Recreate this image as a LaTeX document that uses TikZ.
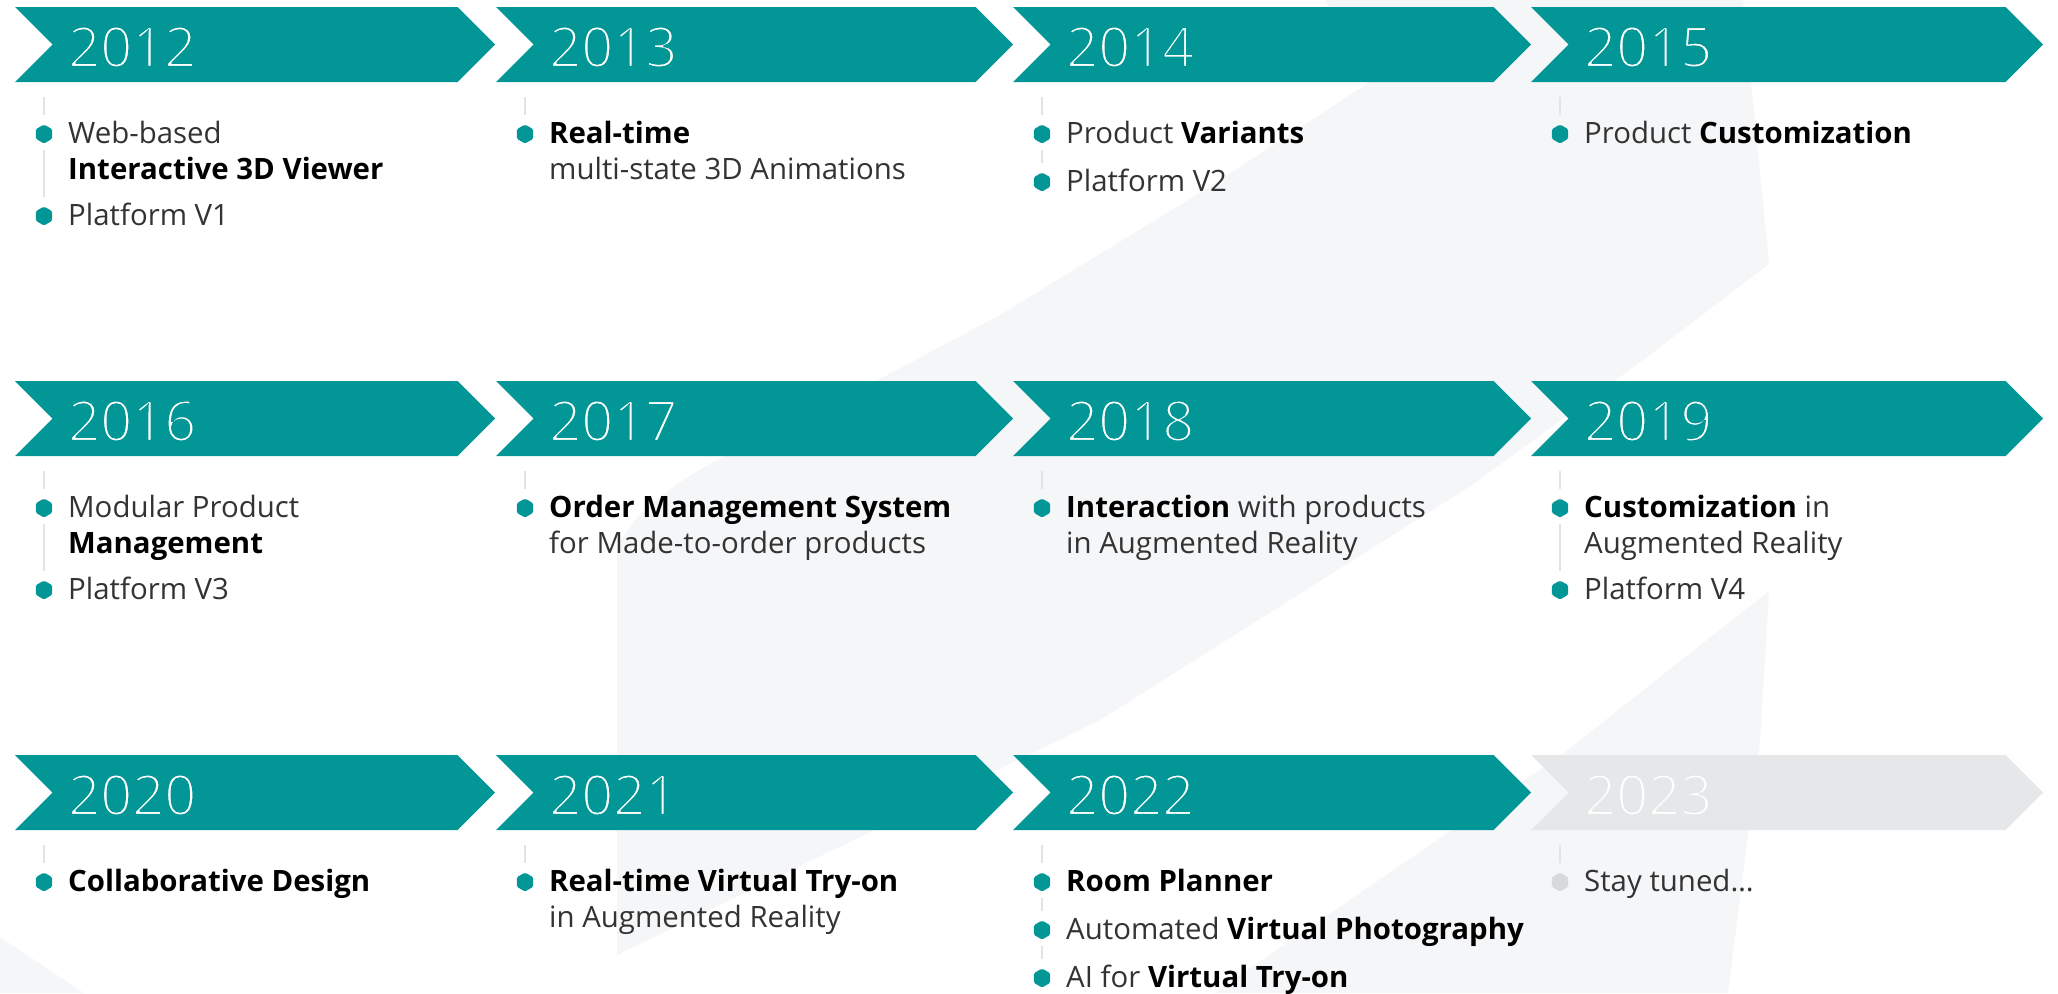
\documentclass[tikz,border=0pt]{standalone}
\usepackage{fontspec}
\setmainfont{Open Sans}
\newfontfamily\yearfont{Open Sans}
\usetikzlibrary{shapes.geometric}
\definecolor{tealA}{HTML}{039697}
\definecolor{bgshape}{HTML}{F5F6F8}
\definecolor{arrgray}{HTML}{E6E7E9}
\definecolor{linegray}{HTML}{E3E3E3}
\definecolor{txtgray}{HTML}{333333}
\definecolor{dotgray}{HTML}{D8D9DB}
% thin the year digits by stroking their outline in the chevron colour
\newcommand\thinyear[2]{\special{pdf:code q 2 Tr 2.2 w #1 RG}#2\special{pdf:code Q}}
\newcommand\tealrgb{0.012 0.588 0.592}
\newcommand\grayrgb{0.902 0.906 0.914}
\newcommand\chevronw[4]{% start x, tip x, top y, colour
  \fill[#4] (#1,#3) -- ({#2-37.5},#3) -- (#2,{#3+37.5}) -- ({#2-37.5},{#3+75}) -- (#1,{#3+75}) -- ({#1+37.5},{#3+37.5}) -- cycle;}
\begin{document}
\begin{tikzpicture}[x=1pt,y=-1pt,
  yearlbl/.style={text=white,font=\yearfont\fontsize{56}{60}\selectfont,inner sep=0pt,anchor=base west},
  itemtxt/.style={text=txtgray,font=\fontsize{29.4}{36}\selectfont,inner sep=0pt,anchor=base west},
  dot/.style={regular polygon,regular polygon sides=6,shape border rotate=30,fill=tealA,minimum size=19pt,inner sep=0pt,rounded corners=1.5pt},
  dotg/.style={dot,fill=dotgray},
  conn/.style={draw=linegray,line width=2pt},
  topconn/.style={conn,shorten >=19pt},
  midconn/.style={conn,shorten <=16pt,shorten >=19pt}]
\useasboundingbox (0,0) rectangle (2058,993);
\fill[white] (0,0) rectangle (2058,993);
% background shapes
\fill[bgshape] (1325,0) -- (1743,0) -- (1769,264) -- (1643,360) -- (1472,485) -- (1100,720) -- (617,955) -- (617,548)
  .. controls (640,500) and (700,465) .. (780,430) -- (878,380) -- (1000,315) -- (1203,191) -- (1370,82) -- cycle;
\fill[bgshape] (1769,591) -- (1760,740) -- (1728,993) -- (1214,993) -- (1560,756) -- cycle;
\fill[bgshape] (0,937) -- (84,993) -- (0,993) -- cycle;
% chevrons
\chevronw{15}{495}{7}{tealA}
\chevronw{496}{1013}{7}{tealA}
\chevronw{1013}{1531}{7}{tealA}
\chevronw{1531}{2043}{7}{tealA}
\chevronw{15}{495}{381}{tealA}
\chevronw{496}{1013}{381}{tealA}
\chevronw{1013}{1531}{381}{tealA}
\chevronw{1531}{2043}{381}{tealA}
\chevronw{15}{495}{755}{tealA}
\chevronw{496}{1013}{755}{tealA}
\chevronw{1013}{1531}{755}{tealA}
\chevronw{1531}{2043}{755}{arrgray}
% years
\node[yearlbl] (y2012) at (68,67) {\thinyear{\tealrgb}{2012}};
\node[yearlbl] (y2013) at (549,67) {\thinyear{\tealrgb}{2013}};
\node[yearlbl] (y2014) at (1066,67) {\thinyear{\tealrgb}{2014}};
\node[yearlbl] (y2015) at (1584,67) {\thinyear{\tealrgb}{2015}};
\node[yearlbl] (y2016) at (68,441) {\thinyear{\tealrgb}{2016}};
\node[yearlbl] (y2017) at (549,441) {\thinyear{\tealrgb}{2017}};
\node[yearlbl] (y2018) at (1066,441) {\thinyear{\tealrgb}{2018}};
\node[yearlbl] (y2019) at (1584,441) {\thinyear{\tealrgb}{2019}};
\node[yearlbl] (y2020) at (68,815) {\thinyear{\tealrgb}{2020}};
\node[yearlbl] (y2021) at (549,815) {\thinyear{\tealrgb}{2021}};
\node[yearlbl] (y2022) at (1066,815) {\thinyear{\tealrgb}{2022}};
\node[yearlbl] (y2023) at (1584,815) {\thinyear{\grayrgb}{2023}};
% connector tops
\coordinate (t2012) at (44,97);   \coordinate (t2013) at (525,97);
\coordinate (t2014) at (1042,97); \coordinate (t2015) at (1560,97);
\coordinate (t2016) at (44,471);  \coordinate (t2017) at (525,471);
\coordinate (t2018) at (1042,471);\coordinate (t2019) at (1560,471);
\coordinate (t2020) at (44,845);  \coordinate (t2021) at (525,845);
\coordinate (t2022) at (1042,845);\coordinate (t2023) at (1560,845);
% ---- row 1
\node[dot] (b2012a) at (44,134) {};
\node[dot] (b2012b) at (44,216) {};
\node[itemtxt] (l2012a) at (68,143) {Web-based};
\node[itemtxt] (l2012b) at (68,179) {\textbf{\color{black}Interactive 3D Viewer}};
\node[itemtxt] (l2012c) at (68,225) {Platform V1};
\draw[topconn] (t2012) -- (b2012a.center);
\draw[midconn] (b2012a.center) -- (b2012b.center);

\node[dot] (b2013a) at (525,134) {};
\node[itemtxt] (l2013a) at (549,143) {\textbf{\color{black}Real-time}};
\node[itemtxt] (l2013b) at (549,179) {multi-state 3D Animations};
\draw[topconn] (t2013) -- (b2013a.center);

\node[dot] (b2014a) at (1042,134) {};
\node[dot] (b2014b) at (1042,182) {};
\node[itemtxt] (l2014a) at (1066,143) {Product \textbf{\color{black}Variants}};
\node[itemtxt] (l2014b) at (1066,191) {Platform V2};
\draw[topconn] (t2014) -- (b2014a.center);
\draw[midconn] (b2014a.center) -- (b2014b.center);

\node[dot] (b2015a) at (1560,134) {};
\node[itemtxt] (l2015a) at (1584,143) {Product \textbf{\color{black}Customization}};
\draw[topconn] (t2015) -- (b2015a.center);
% ---- row 2
\node[dot] (b2016a) at (44,508) {};
\node[dot] (b2016b) at (44,590) {};
\node[itemtxt] (l2016a) at (68,517) {Modular Product};
\node[itemtxt] (l2016b) at (68,553) {\textbf{\color{black}Management}};
\node[itemtxt] (l2016c) at (68,599) {Platform V3};
\draw[topconn] (t2016) -- (b2016a.center);
\draw[midconn] (b2016a.center) -- (b2016b.center);

\node[dot] (b2017a) at (525,508) {};
\node[itemtxt] (l2017a) at (549,517) {\textbf{\color{black}Order Management System}};
\node[itemtxt] (l2017b) at (549,553) {for Made-to-order products};
\draw[topconn] (t2017) -- (b2017a.center);

\node[dot] (b2018a) at (1042,508) {};
\node[itemtxt] (l2018a) at (1066,517) {\textbf{\color{black}Interaction} with products};
\node[itemtxt] (l2018b) at (1066,553) {in Augmented Reality};
\draw[topconn] (t2018) -- (b2018a.center);

\node[dot] (b2019a) at (1560,508) {};
\node[dot] (b2019b) at (1560,590) {};
\node[itemtxt] (l2019a) at (1584,517) {\textbf{\color{black}Customization} in};
\node[itemtxt] (l2019b) at (1584,553) {Augmented Reality};
\node[itemtxt] (l2019c) at (1584,599) {Platform V4};
\draw[topconn] (t2019) -- (b2019a.center);
\draw[midconn] (b2019a.center) -- (b2019b.center);
% ---- row 3
\node[dot] (b2020a) at (44,882) {};
\node[itemtxt] (l2020a) at (68,891) {\textbf{\color{black}Collaborative Design}};
\draw[topconn] (t2020) -- (b2020a.center);

\node[dot] (b2021a) at (525,882) {};
\node[itemtxt] (l2021a) at (549,891) {\textbf{\color{black}Real-time Virtual Try-on}};
\node[itemtxt] (l2021b) at (549,927) {in Augmented Reality};
\draw[topconn] (t2021) -- (b2021a.center);

\node[dot] (b2022a) at (1042,882) {};
\node[dot] (b2022b) at (1042,930) {};
\node[dot] (b2022c) at (1042,978) {};
\node[itemtxt] (l2022a) at (1066,891) {\textbf{\color{black}Room Planner}};
\node[itemtxt] (l2022b) at (1066,939) {Automated \textbf{\color{black}Virtual Photography}};
\node[itemtxt] (l2022c) at (1066,987) {AI for \textbf{\color{black}Virtual Try-on}};
\draw[topconn] (t2022) -- (b2022a.center);
\draw[midconn] (b2022a.center) -- (b2022b.center);
\draw[midconn] (b2022b.center) -- (b2022c.center);

\node[dotg] (b2023a) at (1560,882) {};
\node[itemtxt] (l2023a) at (1584,891) {Stay tuned…};
\draw[topconn] (t2023) -- (b2023a.center);
\end{tikzpicture}
\end{document}
